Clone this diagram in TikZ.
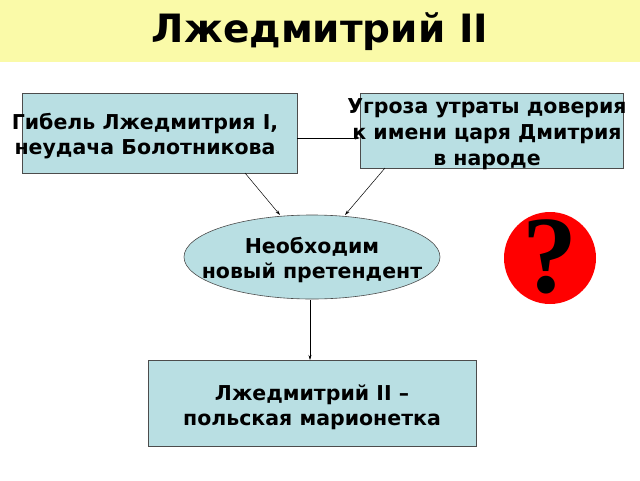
\documentclass[tikz,border=0pt]{standalone}
\usepackage{fontspec}
\setmainfont{DejaVu Sans}
\newfontfamily\qfont{Liberation Serif}
\usetikzlibrary{arrows.meta,shapes.geometric}
\begin{document}
\begin{tikzpicture}[x=1pt,y=-1pt,
  bx/.style={draw=black!70,fill=boxc,line width=0.6pt},
  lbl/.style={font=\bfseries\fontsize{20.5}{25}\selectfont,align=center},
  arr/.style={-{Stealth[length=5pt,width=3pt]},line width=0.5pt}]
\definecolor{boxc}{HTML}{B9DFE3}
\definecolor{titc}{HTML}{FAFAA8}
\useasboundingbox (0,0) rectangle (640,480);
\fill[titc] (0,0) rectangle (640,62);
\node[font=\bfseries\fontsize{39}{44}\selectfont] (title) at (320,32) {Лжедмитрий II};
\draw[bx] (22,93) rectangle (297,173);
\node[lbl] (b1) at (145,136) {Гибель Лжедмитрия I,\\неудача Болотникова};
\draw[bx] (360,93) rectangle (623,168);
\node[lbl,font=\bfseries\fontsize{20.5}{26}\selectfont] (b2) at (487,134) {Угроза утраты доверия\\к имени царя Дмитрия\\в народе};
\draw[bx] (312,257) ellipse [x radius=128,y radius=42];
\node[lbl] (e) at (312,260) {Необходим\\новый претендент};
\draw[bx] (148,360) rectangle (476,446);
\node[lbl] (b3) at (312,407) {Лжедмитрий II –\\польская марионетка};
\fill[red] (550,258) circle (46);
\node[font=\qfont\bfseries\fontsize{110}{110}\selectfont] (q) at (550,257) {?};
\coordinate (a1) at (297,138); \coordinate (a2) at (360,138);
\coordinate (c1) at (245,173); \coordinate (c2) at (280,215);
\coordinate (d1) at (385,168); \coordinate (d2) at (345,215);
\coordinate (f1) at (310,300); \coordinate (f2) at (310,360);
\draw[arr] (a1) -- (a2);
\draw[arr] (c1) -- (c2);
\draw[arr] (d1) -- (d2);
\draw[arr] (f1) -- (f2);
\end{tikzpicture}
\end{document}
